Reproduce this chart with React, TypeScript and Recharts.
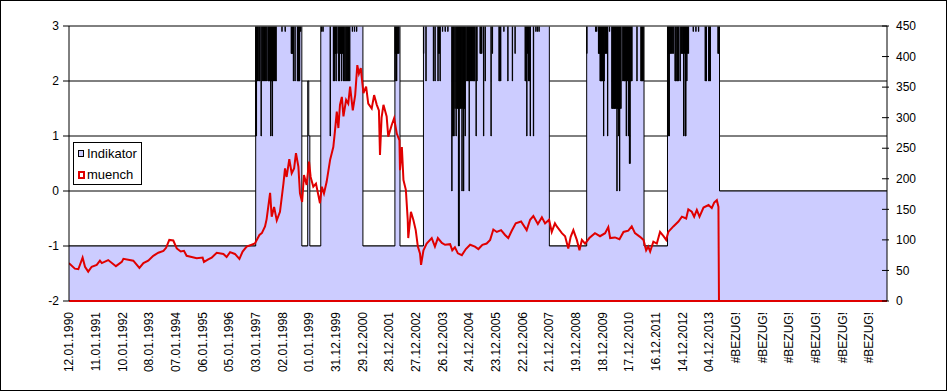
import React from 'react';
import { ComposedChart, Area, Line, XAxis, YAxis, CartesianGrid, ReferenceLine } from 'recharts';

const FONT = "'Liberation Sans', Arial, sans-serif";
const RED = '#e00000';
const LAVENDER = '#ccccff';

// Category labels (one per 52 weekly rows)
const xLabels = [
  '12.01.1990', '11.01.1991', '10.01.1992', '08.01.1993', '07.01.1994', '06.01.1995',
  '05.01.1996', '03.01.1997', '02.01.1998', '01.01.1999', '31.12.1999', '29.12.2000',
  '28.12.2001', '27.12.2002', '26.12.2003', '24.12.2004', '23.12.2005', '22.12.2006',
  '21.12.2007', '19.12.2008', '18.12.2009', '17.12.2010', '16.12.2011', '14.12.2012',
  '04.12.2013', '#BEZUG!', '#BEZUG!', '#BEZUG!', '#BEZUG!', '#BEZUG!', '#BEZUG!',
];
const X_END = 30.67; // last category position, in label steps

const leftTicks = [-2, -1, 0, 1, 2, 3];
const rightTicks = [0, 50, 100, 150, 200, 250, 300, 350, 400, 450];

// muench (right axis): position in label steps, value
const muenchT = [
  0, 0.22, 0.35, 0.51, 0.6, 0.72, 0.85, 1.04, 1.16, 1.23,
  1.47, 1.76, 1.98, 2.04, 2.41, 2.64, 2.79, 2.97, 3.16, 3.35,
  3.54, 3.64, 3.76, 3.91, 4.04, 4.19, 4.31, 4.41, 4.6, 4.79,
  5.01, 5.06, 5.22, 5.35, 5.54, 5.79, 5.91, 6.04, 6.22, 6.39,
  6.51, 6.66, 6.85, 6.97, 7.14, 7.23, 7.35, 7.41, 7.54, 7.6,
  7.69, 7.79, 7.91, 8.04, 8.1, 8.16, 8.26, 8.35, 8.44, 8.51,
  8.6, 8.66, 8.74, 8.81, 8.91, 9.0, 9.06, 9.16, 9.26, 9.35,
  9.41, 9.48, 9.56, 9.66, 9.79, 9.91, 9.97, 10.04, 10.1, 10.16,
  10.23, 10.29, 10.39, 10.47, 10.54, 10.64, 10.73, 10.81, 10.87, 10.94,
  11.04, 11.14, 11.22, 11.35, 11.44, 11.54, 11.62, 11.66, 11.72, 11.79,
  11.91, 11.97, 12.1, 12.19, 12.29, 12.39, 12.41, 12.48, 12.54, 12.63,
  12.7, 12.72, 12.82, 12.91, 13.0, 13.08, 13.16, 13.2, 13.29, 13.41,
  13.6, 13.72, 13.83, 13.98, 14.1, 14.29, 14.37, 14.47, 14.58, 14.73,
  14.88, 15.04, 15.22, 15.35, 15.5, 15.66, 15.79, 15.91, 16.04, 16.2,
  16.35, 16.47, 16.6, 16.75, 16.95, 17.16, 17.29, 17.41, 17.58, 17.73,
  17.85, 18.0, 18.1, 18.22, 18.29, 18.48, 18.6, 18.72, 18.81, 18.91,
  19.04, 19.14, 19.23, 19.35, 19.51, 19.72, 19.91, 20.1, 20.22, 20.29,
  20.47, 20.64, 20.79, 20.97, 21.1, 21.22, 21.41, 21.54, 21.64, 21.72,
  21.79, 21.91, 22.04, 22.16, 22.29, 22.39, 22.47, 22.66, 22.85, 22.98,
  23.14, 23.22, 23.35, 23.44, 23.54, 23.64, 23.79, 23.98, 24.1, 24.19,
  24.29, 24.35, 24.37, 30.67,
];
const muenchV = [
  62, 53, 52, 71, 56, 48, 56, 59, 66, 62,
  67, 57, 64, 69, 66, 54, 62, 66, 74, 79,
  82, 87, 100, 99, 86, 81, 82, 74, 72, 70,
  71, 64, 68, 71, 79, 77, 72, 80, 77, 69,
  81, 89, 92, 94, 108, 111, 122, 134, 177, 138,
  154, 132, 146, 192, 217, 203, 232, 209, 217, 242,
  220, 176, 162, 206, 190, 228, 203, 187, 192, 173,
  160, 187, 176, 195, 231, 252, 277, 310, 283, 321,
  334, 302, 329, 323, 351, 312, 337, 386, 372, 381,
  340, 351, 323, 315, 337, 321, 312, 239, 300, 321,
  302, 269, 288, 299, 274, 263, 214, 252, 198, 182,
  133, 103, 146, 133, 116, 89, 78, 59, 83, 94,
  103, 89, 103, 95, 92, 93, 83, 88, 78, 75,
  85, 92, 89, 85, 92, 94, 100, 117, 113, 116,
  108, 103, 115, 127, 130, 116, 133, 139, 126, 137,
  127, 133, 113, 127, 122, 111, 106, 86, 105, 116,
  100, 83, 100, 94, 103, 111, 106, 111, 121, 103,
  104, 101, 113, 115, 122, 111, 105, 100, 83, 89,
  81, 97, 94, 113, 106, 100, 113, 122, 130, 138,
  135, 150, 146, 138, 149, 138, 153, 157, 152, 161,
  165, 154, 0, 0,
];

// Indikator (left axis): regime changes
const regimeT = [0, 7.0, 8.73, 8.95, 8.99, 9.03, 9.44, 11.02, 12.22, 12.41, 13.29, 18.01, 19.41, 21.56, 22.44, 24.39];
const regimeV = [-1, 3, -1, 2, 1, -1, 3, -1, 3, -1, 3, -1, 3, -1, 3, 0];

// Indikator: one-week dips inside the "3" regimes
const spikeT = [
  7.0, 7.02, 7.06, 7.08, 7.12, 7.15, 7.2, 7.25, 7.29, 7.33, 7.37, 7.41, 7.46, 7.48, 7.5, 7.53, 7.56, 7.58, 7.6, 7.62,
  7.64, 7.67, 7.7, 7.73, 7.76, 7.98, 8.1, 8.33, 8.35, 8.37, 8.39, 8.41, 8.47, 8.56, 8.58, 8.6, 8.62, 8.64, 8.68,
  9.47, 9.52, 9.79, 9.91, 9.93, 9.95, 9.97, 9.99, 10.01, 10.04, 10.1, 10.13, 10.16, 10.18, 10.21, 10.23, 10.25, 10.28,
  10.31, 10.35, 10.4, 10.44, 10.48, 10.52, 10.62, 10.7, 10.78,
  12.22, 12.24, 12.26, 12.28, 12.3, 12.33, 12.36,
  13.29, 13.38, 13.66, 13.72, 13.83, 13.85, 13.88, 13.91, 14.0, 14.1, 14.2, 14.35, 14.38, 14.4, 14.43, 14.47, 14.51,
  14.54, 14.56, 14.6, 14.62, 14.64, 14.67, 14.7, 14.73, 14.76, 14.79, 14.81, 14.83, 14.85, 14.91, 14.94, 14.97, 15.0,
  15.02, 15.05, 15.08, 15.12, 15.15, 15.18, 15.21, 15.26, 15.29, 15.41, 15.44, 15.47, 15.54, 15.6, 15.82, 15.87,
  16.12, 16.15, 16.18, 16.3, 16.45, 16.62, 16.72, 17.1, 17.13, 17.16, 17.19, 17.22, 17.25, 17.29, 17.41, 17.5, 17.56, 17.62,
  19.41, 19.74, 19.78, 19.85, 19.87, 19.89, 19.91, 19.93, 19.95, 19.97, 20.0, 20.02, 20.04, 20.06, 20.09, 20.12, 20.14,
  20.19, 20.26, 20.35, 20.37, 20.39, 20.42, 20.44, 20.46, 20.49, 20.51, 20.54, 20.56, 20.58, 20.6, 20.62, 20.64, 20.66,
  20.69, 20.76, 20.78, 20.81, 20.83, 20.86, 20.89, 20.91, 20.94, 20.97, 20.99, 21.01, 21.03, 21.06, 21.08, 21.1, 21.29,
  21.44, 21.46, 21.48, 21.5, 21.52,
  22.44, 22.46, 22.48, 22.5, 22.52, 22.55, 22.58, 22.62, 22.66, 22.72, 22.75, 22.79, 22.82, 22.85, 22.91, 22.95, 22.98,
  23.01, 23.04, 23.07, 23.1, 23.12, 23.14, 23.16, 23.19, 23.22, 23.4, 23.5, 23.6, 23.85, 23.89, 23.98, 24.01, 24.04,
  24.33, 24.35,
];
const spikeV = [
  1, 1, 2, 2, 2, 2, 1, 2, 2, 2, 2, 2, 2, 2, 2, 2, 1, 2, 2, 1,
  2, 2, 2, 2, 2, 2.9, 2.9, 2.5, 2.5, 2.5, 2.5, 2, 2, 2, 2, 2, 2, 2, 2.9,
  2.9, 2.9, 1, 2, 2.5, 2, 2.5, 2.5, 2, 2.5, 2, 2, 2.5, 2.5, 2, 2.5, 2.5, 2,
  2, 2, 2, 2, 2, 2, 2.9, 2.9, 2.9,
  2, 2.5, 2.5, 2, 2.5, 2.5, 2.5,
  2.5, 2, 2, 2, 2, 2.5, 2.5, 2, 2.9, 2.9, 2.9, 0, 1, 1, 1, 1.5, 1,
  1.5, 1.5, -1, -1, 1.5, 1.5, 1.5, 0, 1.5, 0, 1.5, 1.5, 1, 2, 2, 2, 0,
  2, 2, 2, 2, 2, 2, 2, 1, 2, 2.5, 2.5, 2.5, 1, 2, 1, 2.5,
  2, 2, 2, 2.9, 2, 2, 2.5, 2, 2, 1, 2.5, 2, 2, 1, 1, 2.9, 2.9, 2.9,
  2.5, 2.9, 2.9, 2.5, 2.5, 2.5, 2, 2, 2, 2, 2, 2, 1, 2, 2.5, 2.5, 2.5,
  1, 2.9, 1.5, 1.5, 1.5, 1.5, 1.5, 1.5, 1.5, 1.5, 0, 1.5, 1.5, 1, 1.5, 0, 1.5,
  1.5, 2, 2, 2, 2, 2, 1, 2, 2, 1, 2, 0.5, 0.5, 2, 2, 2, 2,
  2, 2, 2, 2, 2,
  1, 1, 2.5, 1, 2.5, 2.5, 2.5, 2.5, 2.5, 2, 2, 2, 2, 2, 2, 2.5, 2.5,
  2.5, 1, 2.5, 1, 1, 2.5, 2, 2.5, 2.5, 2.9, 2.9, 2.9, 2, 2, 2, 2, 2,
  2.5, 2.5,
];

function regimeAt(t: number): number {
  let v = regimeV[0];
  for (let i = 0; i < regimeT.length; i++) if (regimeT[i] <= t + 1e-9) v = regimeV[i];
  return v;
}

type Ev = { t: number; v: number; o: number };
const events: Ev[] = [];
regimeT.forEach((t, i) => events.push({ t, v: regimeV[i], o: 0 }));
spikeT.forEach((t, i) => {
  events.push({ t, v: spikeV[i], o: 1 });
  events.push({ t: t + 0.012, v: regimeAt(t + 0.012), o: 0 });
});
events.sort((a, b) => a.t - b.t || a.o - b.o);
const indData = events.map((e) => ({ t: e.t, ind: e.v }));
indData.push({ t: X_END, ind: regimeV[regimeV.length - 1] });

const muenchData = muenchT.map((t, i) => ({ t, m: muenchV[i] }));
const xTicks = xLabels.map((_, i) => i);

const XTick = (props: any) => {
  const { x, y, payload } = props;
  const label = xLabels[Math.round(payload.value)];
  return (
    <text
      x={x}
      y={y}
      transform={`rotate(-90 ${x} ${y})`}
      textAnchor="end"
      dy="0.35em"
      fontSize={12}
      fontFamily={FONT}
      fill="#000"
    >
      {label}
    </text>
  );
};

const RightTick = (props: any) => {
  const { x, y, payload } = props;
  return (
    <g>
      <line x1={x - 5} x2={x + 2} y1={y} y2={y} stroke="#000" />
      <text x={x + 9} y={y} dy="0.35em" fontSize={12} fontFamily={FONT} fill="#000" textAnchor="start">
        {payload.value}
      </text>
    </g>
  );
};

export default function App() {
  return (
    <div style={{ position: 'absolute', left: 0, top: 0, width: 948, height: 392, background: '#fff' }}>
      <ComposedChart width={948} height={392} margin={{ top: 26, right: 0, bottom: 0, left: 0 }}>
        <CartesianGrid yAxisId="left" horizontal vertical={false} stroke="#000" strokeOpacity={1} />
        <XAxis
          dataKey="t"
          type="number"
          domain={[0, X_END]}
          ticks={xTicks}
          interval={0}
          height={91}
          tickLine={false}
          tickSize={0}
          tickMargin={11}
          axisLine={false}
          tick={<XTick />}
          allowDataOverflow
        />
        <YAxis
          yAxisId="left"
          domain={[-2, 3]}
          ticks={leftTicks}
          interval={0}
          width={69}
          tickSize={6}
          tickMargin={4}
          axisLine={{ stroke: '#000' }}
          tickLine={{ stroke: '#000' }}
          tick={{ fontSize: 12, fill: '#000', fontFamily: FONT }}
          allowDataOverflow
        />
        <YAxis
          yAxisId="right"
          orientation="right"
          domain={[0, 450]}
          ticks={rightTicks}
          interval={0}
          width={61}
          tickSize={0}
          tickMargin={0}
          tickLine={false}
          axisLine={{ stroke: '#000' }}
          tick={<RightTick />}
          allowDataOverflow
        />
        <Area
          yAxisId="left"
          data={indData}
          dataKey="ind"
          type="stepAfter"
          stroke="#000"
          strokeWidth={1}
          fill={LAVENDER}
          fillOpacity={1}
          baseValue="dataMin"
          dot={false}
          activeDot={false}
          isAnimationActive={false}
        />
        <Line
          yAxisId="right"
          data={muenchData}
          dataKey="m"
          type="linear"
          stroke={RED}
          strokeWidth={2}
          dot={false}
          activeDot={false}
          isAnimationActive={false}
        />
        <ReferenceLine yAxisId="left" y={3} stroke="#808080" strokeWidth={1} />
        <ReferenceLine yAxisId="right" y={0} stroke={RED} strokeWidth={2} />
      </ComposedChart>
      <svg
        width={948}
        height={392}
        style={{ position: 'absolute', left: 0, top: 0, pointerEvents: 'none' }}
      >
        <rect x={0.5} y={0.5} width={946} height={390} fill="none" stroke="#000" />
        <g fontFamily={FONT} fontSize={13} fill="#000">
          <rect x={73.5} y={142.5} width={68} height={42} fill="#fff" stroke="#000" />
          <rect x={78.5} y={150.5} width={5} height={6} fill={LAVENDER} stroke="#000" />
          <text x={87} y={153} dy="0.35em">Indikator</text>
          <rect x={79} y={172} width={5} height={6} fill="#fff" stroke={RED} strokeWidth={2} />
          <text x={87} y={174} dy="0.35em">muench</text>
        </g>
      </svg>
    </div>
  );
}
